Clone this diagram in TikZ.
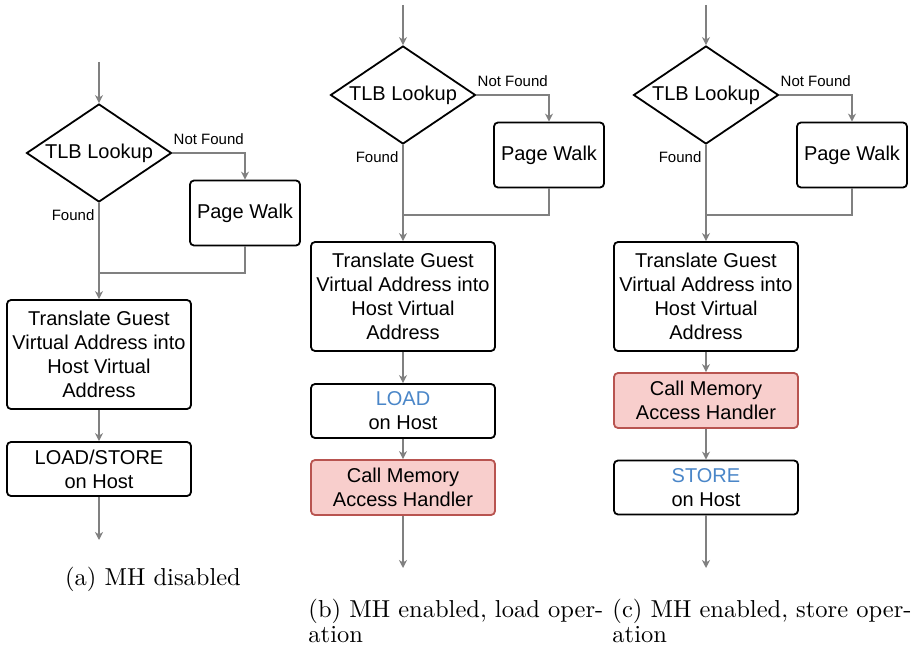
\documentclass[tikz,border=0pt]{standalone}
\usepackage{fontspec}
\newfontfamily\diafont{Liberation Sans}
\usetikzlibrary{shapes.geometric,arrows.meta}
\definecolor{conngray}{RGB}{128,128,128}
\definecolor{mhfill}{RGB}{248,206,204}
\definecolor{mhdraw}{RGB}{184,84,80}
\definecolor{opblue}{RGB}{74,134,200}

\begin{document}
\begin{tikzpicture}[x=1pt,y=-1pt,
  box/.style={draw=black, line width=1.8pt, rounded corners=4pt, fill=white,
    align=center, inner sep=0pt, font=\diafont\fontsize{20}{24}\selectfont},
  mhbox/.style={box, draw=mhdraw, fill=mhfill},
  decision/.style={diamond, draw=black, line width=1.8pt, aspect=1.48,
    minimum width=145pt, minimum height=98pt, inner sep=0pt,
    font=\diafont\fontsize{20}{24}\selectfont},
  line/.style={draw=conngray, line width=1.3pt},
  conn/.style={line, -{Stealth[length=8pt,width=8pt,inset=2.5pt]}},
  lbl/.style={font=\diafont\fontsize{15}{18}\selectfont, text=black},
  caption/.style={scale=2.45, inner sep=0pt, align=left,
    font=\fontsize{10}{10.2}\selectfont}
]
\useasboundingbox (0,0) rectangle (911,650);

% ---------- (a) MH disabled ----------
\begin{scope}[shift={(99,153)}]
  \coordinate (a-in) at (0,-91);
  \node[decision] (a-tlb) at (0,0) {TLB Lookup};
  \node[box, minimum width=110pt, minimum height=65pt] (a-pw) at (146,60) {Page Walk};
  \node[box, minimum width=184pt, minimum height=109pt] (a-tr) at (0,201.5)
    {Translate Guest\\Virtual Address into\\Host Virtual\\Address};
  \node[box, minimum width=184pt, minimum height=54pt] (a-ls) at (0,316) {LOAD/STORE\\on Host};
  \coordinate (a-merge) at (0,120);
  \coordinate (a-out) at (0,387);
  \draw[conn] (a-in) -- (a-tlb.north);
  \draw[conn] (a-tlb.east) -| node[lbl, pos=0.25, above=6pt, inner sep=2pt] {Not Found} (a-pw.north);
  \draw[conn] (a-tlb.south) -- node[lbl, pos=0.13, left, inner sep=4pt] {Found} (a-tr.north);
  \draw[line] (a-pw.south) |- (a-merge);
  \draw[conn] (a-tr.south) -- (a-ls.north);
  \draw[conn] (a-ls.south) -- (a-out);
\end{scope}
\node[caption, anchor=north] (a-cap) at (153,567) {(a) MH disabled};

% ---------- (b) MH enabled, load ----------
\begin{scope}[shift={(403,95)}]
  \coordinate (b-in) at (0,-90);
  \node[decision] (b-tlb) at (0,0) {TLB Lookup};
  \node[box, minimum width=110pt, minimum height=65pt] (b-pw) at (146,60) {Page Walk};
  \node[box, minimum width=184pt, minimum height=109pt] (b-tr) at (0,201.5)
    {Translate Guest\\Virtual Address into\\Host Virtual\\Address};
  \node[box, minimum width=184pt, minimum height=54pt] (b-ld) at (0,316)
    {{\color{opblue}LOAD}\\on Host};
  \node[mhbox, minimum width=184pt, minimum height=55pt] (b-mh) at (0,392.5)
    {Call Memory\\Access Handler};
  \coordinate (b-merge) at (0,120);
  \coordinate (b-out) at (0,473);
  \draw[conn] (b-in) -- (b-tlb.north);
  \draw[conn] (b-tlb.east) -| node[lbl, pos=0.25, above=6pt, inner sep=2pt] {Not Found} (b-pw.north);
  \draw[conn] (b-tlb.south) -- node[lbl, pos=0.13, left, inner sep=4pt] {Found} (b-tr.north);
  \draw[line] (b-pw.south) |- (b-merge);
  \draw[conn] (b-tr.south) -- (b-ld.north);
  \draw[conn] (b-ld.south) -- (b-mh.north);
  \draw[conn] (b-mh.south) -- (b-out);
\end{scope}
\node[caption, anchor=north west] (b-cap) at (308,599) {(b) MH enabled, load oper-\\ation};

% ---------- (c) MH enabled, store ----------
\begin{scope}[shift={(706,95)}]
  \coordinate (c-in) at (0,-90);
  \node[decision] (c-tlb) at (0,0) {TLB Lookup};
  \node[box, minimum width=110pt, minimum height=65pt] (c-pw) at (146,60) {Page Walk};
  \node[box, minimum width=184pt, minimum height=109pt] (c-tr) at (0,201.5)
    {Translate Guest\\Virtual Address into\\Host Virtual\\Address};
  \node[mhbox, minimum width=184pt, minimum height=55pt] (c-mh) at (0,305.5)
    {Call Memory\\Access Handler};
  \node[box, minimum width=184pt, minimum height=54pt] (c-st) at (0,392.5)
    {{\color{opblue}STORE}\\on Host};
  \coordinate (c-merge) at (0,120);
  \coordinate (c-out) at (0,473);
  \draw[conn] (c-in) -- (c-tlb.north);
  \draw[conn] (c-tlb.east) -| node[lbl, pos=0.25, above=6pt, inner sep=2pt] {Not Found} (c-pw.north);
  \draw[conn] (c-tlb.south) -- node[lbl, pos=0.13, left, inner sep=4pt] {Found} (c-tr.north);
  \draw[line] (c-pw.south) |- (c-merge);
  \draw[conn] (c-tr.south) -- (c-mh.north);
  \draw[conn] (c-mh.south) -- (c-st.north);
  \draw[conn] (c-st.south) -- (c-out);
\end{scope}
\node[caption, anchor=north west] (c-cap) at (612,599) {(c) MH enabled, store oper-\\ation};
\end{tikzpicture}
\end{document}
